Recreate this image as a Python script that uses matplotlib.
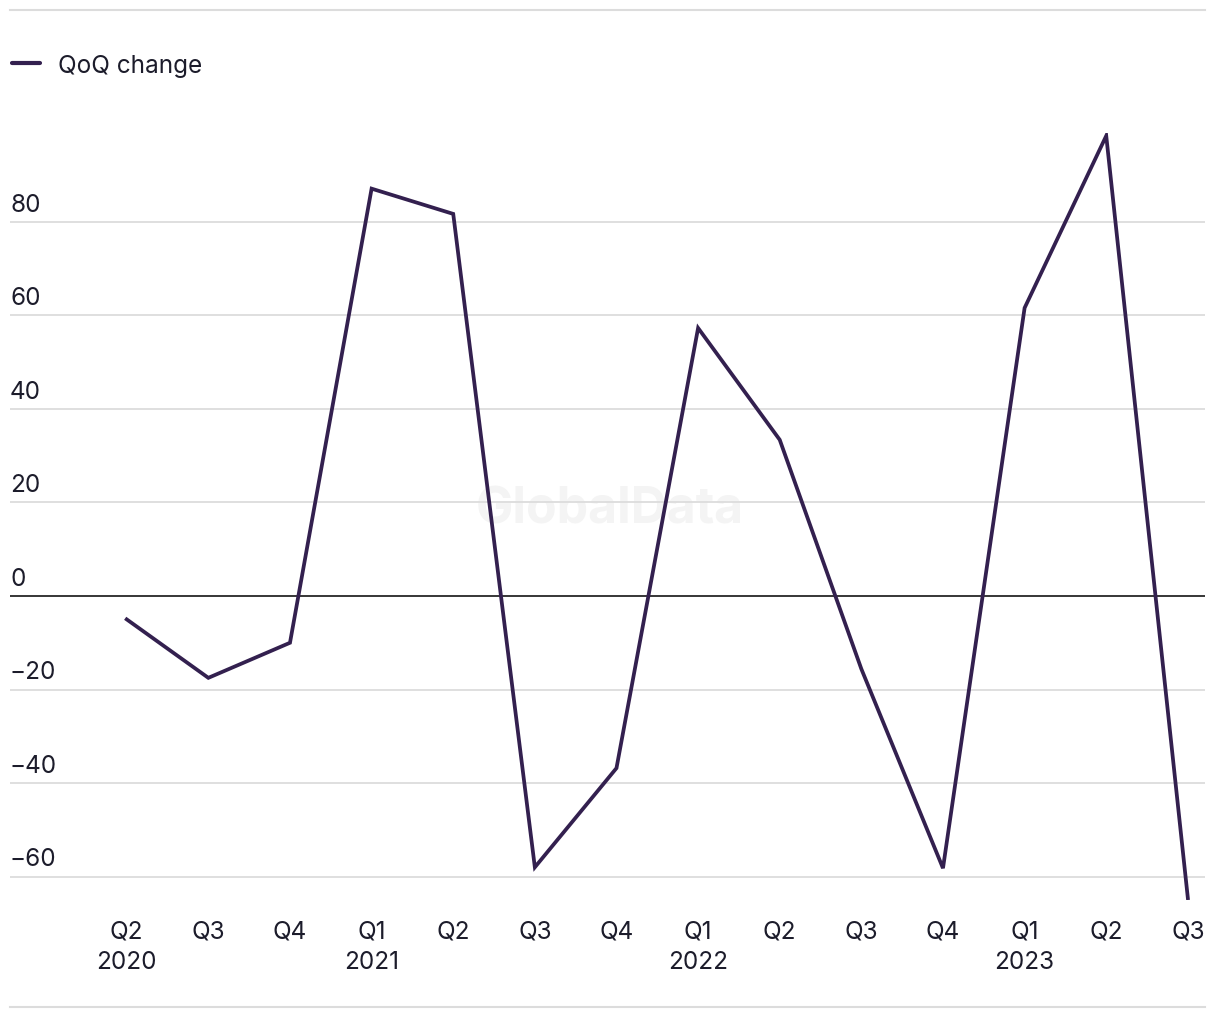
import matplotlib
matplotlib.use("Agg")
import matplotlib.pyplot as plt
import matplotlib.transforms as mtransforms
from matplotlib.lines import Line2D

plt.rcParams['font.family'] = ['Inter', 'DejaVu Sans']

# Datos
trimestres = ["Q2\n2020", "Q3", "Q4", "Q1\n2021", "Q2", "Q3", "Q4",
              "Q1\n2022", "Q2", "Q3", "Q4", "Q1\n2023", "Q2", "Q3"]
qoq_change = [-5, -17.5, -10, 87.1, 81.7, -58, -36.8,
              57.3, 33.4, -15.6, -58.2, 61.6, 98.4, -64.6]
y_ticks = [-60, -40, -20, 0, 20, 40, 60, 80]

line_color = "#33204f"
text_color = "#1c1c2b"
fs = 17.5

fig = plt.figure(figsize=(12.2, 10.2), dpi=100)
ax = fig.add_axes([10 / 1220, 1 - 901 / 1020, 1195 / 1220, (901 - 134) / 1020])

# marca de agua (detras de la linea)
ax.text(0.5, 0.5, "GlobalData", fontsize=36, fontweight="bold", color="#f4f4f4",
        ha="center", va="center", transform=fig.transFigure, zorder=0.5)

x = list(range(len(qoq_change)))
ax.plot(x, qoq_change, color=line_color, linewidth=2.7, solid_joinstyle="miter", zorder=3)

ax.set_xlim(-1.43, len(x) - 1 + 0.21)
ax.set_ylim(-65, 99)

# lineas de cuadricula
for t in y_ticks:
    if t == 0:
        ax.axhline(t, color="black", linewidth=1.1, zorder=2)
    else:
        ax.axhline(t, color="#dcdcdc", linewidth=1.3, zorder=1)

# etiquetas del eje y dentro del area
offset = mtransforms.offset_copy(ax.get_yaxis_transform(), fig=fig, x=0, y=4.5, units="points")
for t in y_ticks:
    lab = str(t).replace("-", "\u2212")
    ax.text(0, t, lab, transform=offset, ha="left", va="bottom",
            fontsize=fs, color=text_color)

ax.set_yticks([])
ax.set_xticks(x)
ax.set_xticklabels(trimestres, fontsize=fs, color=text_color, linespacing=1.4)
ax.tick_params(axis="x", length=0, pad=14)
for s in ax.spines.values():
    s.set_visible(False)

# lineas superior e inferior
fig.add_artist(Line2D([10 / 1220, 1205 / 1220], [1 - 11 / 1020, 1 - 11 / 1020],
                      color="#dcdcdc", linewidth=1.5))
fig.add_artist(Line2D([10 / 1220, 1205 / 1220], [1 - 1008 / 1020, 1 - 1008 / 1020],
                      color="#dcdcdc", linewidth=1.5))

# leyenda
fig.add_artist(Line2D([12 / 1220, 40 / 1220], [1 - 64 / 1020, 1 - 64 / 1020],
                      color=line_color, linewidth=3, solid_capstyle="round"))
fig.text(58 / 1220, 1 - 67 / 1020, "QoQ change", fontsize=fs, color=text_color,
         ha="left", va="center")

fig.savefig("out.png", dpi=100)
